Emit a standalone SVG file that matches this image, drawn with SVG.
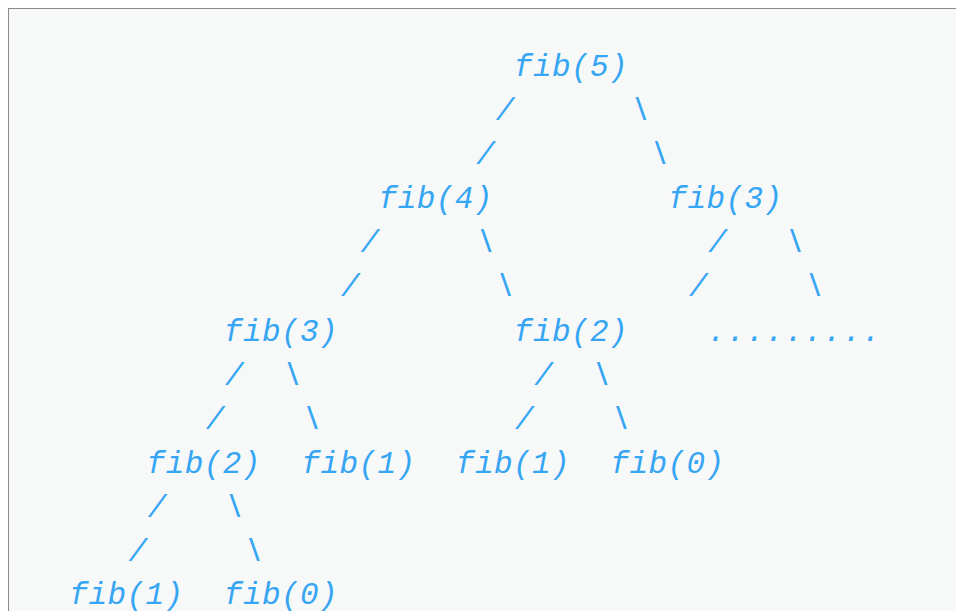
<svg xmlns="http://www.w3.org/2000/svg" width="956" height="611" viewBox="0 0 956 611">
<style>
.t{font-family:"Liberation Mono","DejaVu Sans Mono",monospace;font-style:italic;font-size:31px;letter-spacing:0.4px;fill:#36a5f3;}
.d{letter-spacing:0.73px;}
</style>
<rect x="0" y="0" width="956" height="611" fill="#ffffff"/>
<rect x="8.5" y="8.5" width="960" height="620" fill="#f7f9f9" stroke="#8a8a8a" stroke-width="1"/>
<g id="connectors" class="t">
<text x="495.7" y="120.1">/</text><text x="631.0" y="120.1">\</text>
<text x="476.3" y="164.2">/</text><text x="650.3" y="164.2">\</text>
<text x="360.4" y="252.3">/</text><text x="476.3" y="252.3">\</text><text x="708.3" y="252.3">/</text><text x="785.6" y="252.3">\</text>
<text x="341.0" y="296.4">/</text><text x="495.7" y="296.4">\</text><text x="689.0" y="296.4">/</text><text x="804.9" y="296.4">\</text>
<text x="225.0" y="384.6">/</text><text x="283.0" y="384.6">\</text><text x="534.3" y="384.6">/</text><text x="592.3" y="384.6">\</text>
<text x="205.7" y="428.6">/</text><text x="302.4" y="428.6">\</text><text x="515.0" y="428.6">/</text><text x="611.6" y="428.6">\</text>
<text x="147.7" y="516.8">/</text><text x="225.0" y="516.8">\</text>
<text x="128.4" y="560.9">/</text><text x="244.4" y="560.9">\</text>
</g>
<g id="fib5" class="t"><text x="514.0" y="76">fib(5)</text></g>
<g id="fib4" class="t"><text x="378.7" y="208.2">fib(4)</text></g>
<g id="fib3r" class="t"><text x="668.6" y="208.2">fib(3)</text></g>
<g id="fib3l" class="t"><text x="224.0" y="340.5">fib(3)</text></g>
<g id="fib2m" class="t"><text x="514.0" y="340.5">fib(2)</text></g>
<g id="dots" class="t"><text class="d" x="707.3" y="340.5">.........</text></g>
<g id="fib2l" class="t"><text x="146.7" y="472.7">fib(2)</text></g>
<g id="fib1a" class="t"><text x="301.4" y="472.7">fib(1)</text></g>
<g id="fib1b" class="t"><text x="456.0" y="472.7">fib(1)</text></g>
<g id="fib0a" class="t"><text x="610.6" y="472.7">fib(0)</text></g>
<g id="fib1c" class="t"><text x="69.4" y="604.0">fib(1)</text></g>
<g id="fib0b" class="t"><text x="224.0" y="604.0">fib(0)</text></g>
</svg>
